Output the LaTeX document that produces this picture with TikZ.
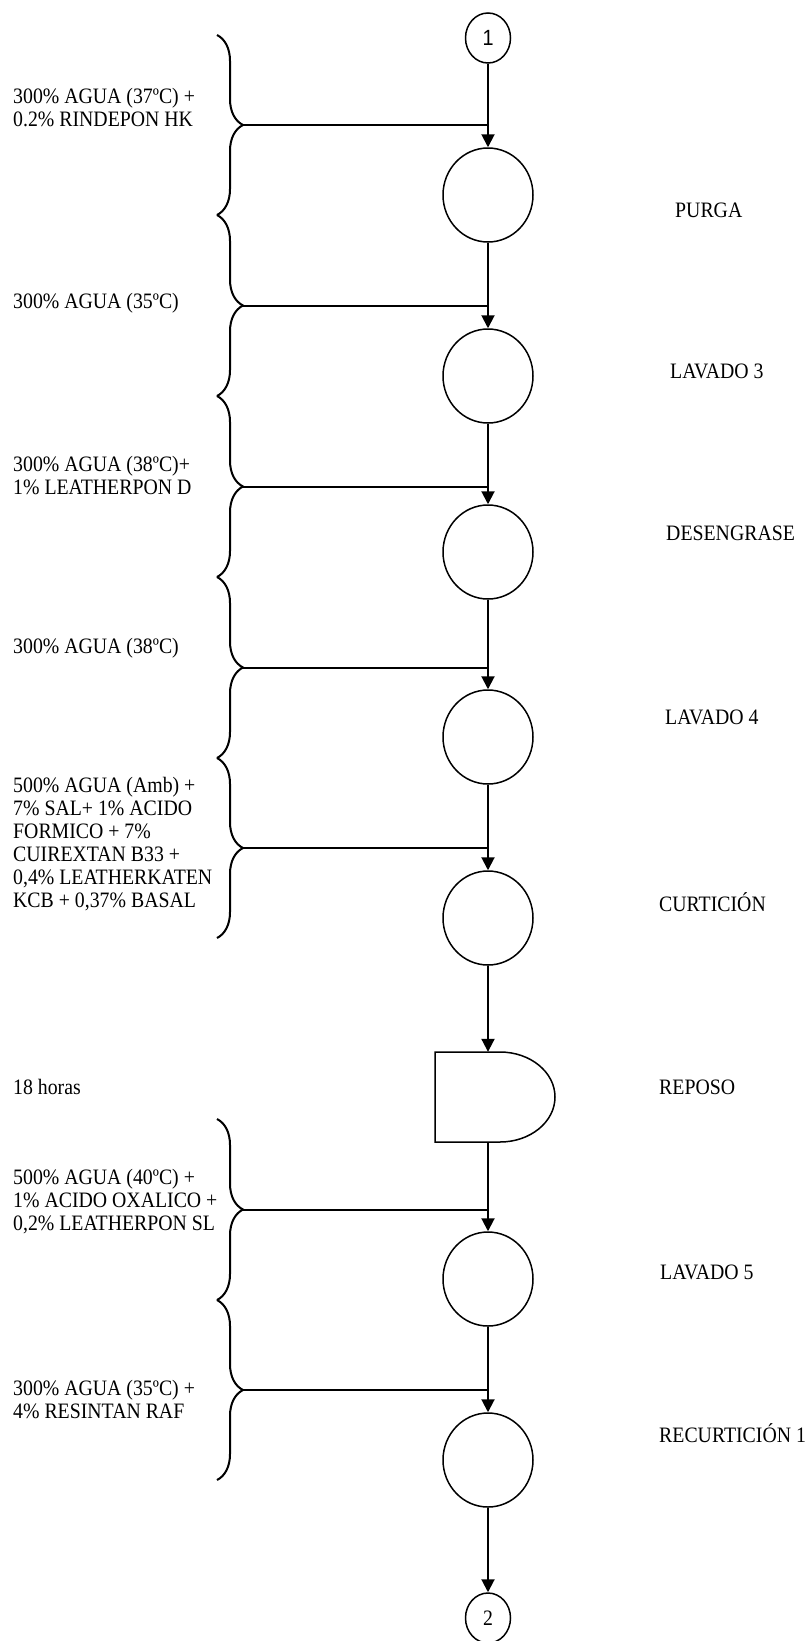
\documentclass[tikz,border=0pt]{standalone}
\usepackage{fontspec}
\setmainfont{Liberation Serif}[FakeStretch=0.9]
\newfontfamily\arialfont{Liberation Sans}[FakeStretch=0.9]
\usetikzlibrary{arrows.meta,shapes.geometric,decorations.pathreplacing}

\begin{document}
\begin{tikzpicture}[x=1pt, y=-1pt, font={\fontsize{22}{23}\selectfont}]
	\tikzstyle{stage} = [ draw, ellipse, line width=1.5pt, minimum width=90pt, minimum height=94pt, inner sep=0pt];
	\tikzstyle{endpoint} = [ draw, ellipse, line width=1.5pt, minimum width=45pt, minimum height=50pt, inner sep=0pt];
	\tikzstyle{inputlbl} = [ align=left, anchor=west, inner sep=0pt];
	\tikzstyle{stagelbl} = [ anchor=west, inner sep=0pt];
	\tikzstyle{flow} = [ -{Triangle[length=13pt, width=13pt]}, line width=2pt];
	\tikzstyle{feed} = [ line width=2pt];
	\tikzstyle{bracket} = [ decorate, decoration={brace, amplitude=26pt}, line width=2pt];

	\useasboundingbox (0,0) rectangle (810,1641);

	% connectors in and out
	\node[endpoint] (in) at (488,38) {\arialfont 1};
	\node[endpoint] (out) at (488,1618) {2};

	% process stages
	\def \stages {purga/195/PURGA/675/210, lavtres/376/LAVADO 3/670/371,
		deseng/552/DESENGRASE/666/533, lavcuatro/737/LAVADO 4/665/717,
		curticion/918/CURTICIÓN/659/902, lavcinco/1279/LAVADO 5/660/1272,
		recurt/1460/RECURTICIÓN 1/659/1433}
	\foreach \n/\y/\t/\lx/\ly in \stages {
		\node[stage] (\n) at (488,\y) {};
		\node[stagelbl] (\n-lbl) at (\lx,\ly) {\t};
	}

	% reposo (delay)
	\node[inner sep=0pt, minimum width=0pt, minimum height=90pt] (reposo) at (488,1097) {};
	\draw[line width=1.5pt] (435,1052) -- (500,1052)
		arc[start angle=90, end angle=-90, x radius=55pt, y radius=45pt]
		-- (435,1142) -- cycle;
	\node[stagelbl] (reposo-lbl) at (659,1087) {REPOSO};

	% main flow
	\foreach \a/\b in {in/purga, purga/lavtres, lavtres/deseng, deseng/lavcuatro,
		lavcuatro/curticion, curticion/reposo, reposo/lavcinco, lavcinco/recurt, recurt/out}
		\draw[flow] (\a.south) -- (\b.north);

	% braces and feeds
	\foreach \top/\bot/\c/\to [count=\i] in {35/215/125/purga, 215/396/305.5/lavtres,
		396/577/486.5/deseng, 577/758/667.5/lavcuatro, 758/938/848/curticion,
		1119/1300/1209.5/lavcinco, 1300/1480/1390/recurt} {
		\draw[bracket] (217,\top) -- (217,\bot);
		\coordinate (c\i) at (243,\c);
		\draw[feed] (c\i) -- (c\i -| \to.north);
	}

	% inputs
	\node[inputlbl] (q1) at (13,108) {300\% AGUA (37ºC) +\\0.2\% RINDEPON HK};
	\node[inputlbl] (q2) at (13,303) {300\% AGUA (35ºC)};
	\node[inputlbl] (q3) at (13,476) {300\% AGUA (38ºC)+\\1\% LEATHERPON D};
	\node[inputlbl] (q4) at (13,648) {300\% AGUA (38ºC)};
	\node[inputlbl] (q5) at (13,844) {500\% AGUA (Amb) +\\7\% SAL+ 1\% ACIDO\\FORMICO + 7\%\\CUIREXTAN B33 +\\0,4\% LEATHERKATEN\\KCB + 0,37\% BASAL};
	\node[inputlbl] (q6) at (13,1087) {18 horas};
	\node[inputlbl] (q7) at (13,1202) {500\% AGUA (40ºC) +\\1\% ACIDO OXALICO +\\0,2\% LEATHERPON SL};
	\node[inputlbl] (q8) at (13,1399) {300\% AGUA (35ºC) +\\4\% RESINTAN RAF};
\end{tikzpicture}
\end{document}
